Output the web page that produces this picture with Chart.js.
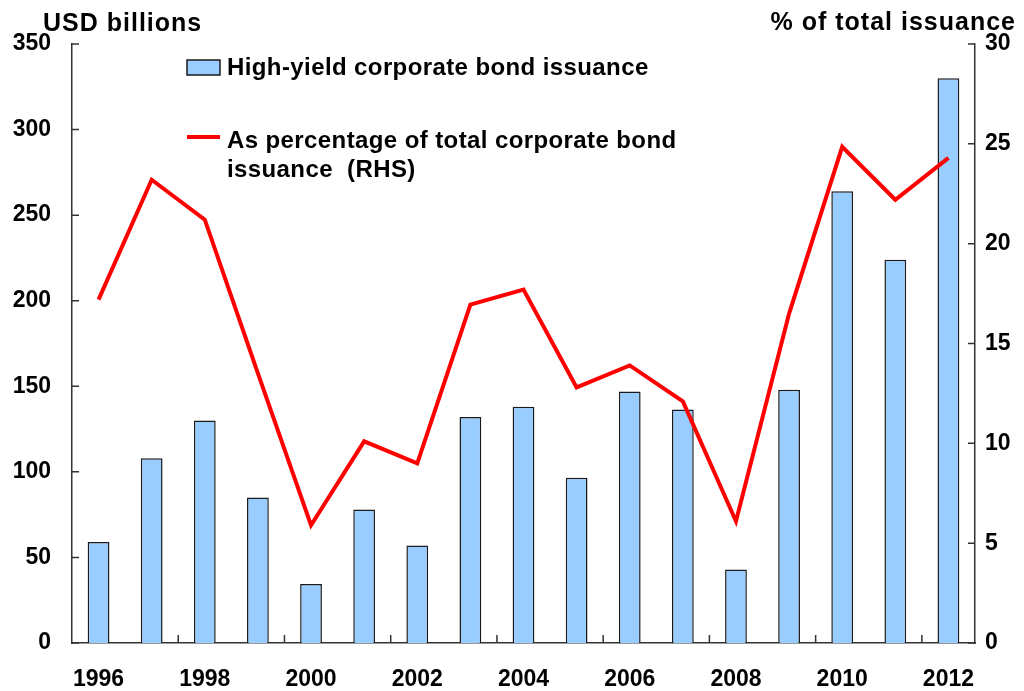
<!DOCTYPE html>
<html>
<head>
<meta charset="utf-8">
<script src="https://cdn.jsdelivr.net/npm/chart.js@4.4.0/dist/chart.umd.min.js"></script>
<style>
  html, body { margin: 0; padding: 0; background: #fff; }
  #wrap { width: 1024px; height: 691px; }
</style>
</head>
<body>
<div id="wrap"><canvas id="myChart" width="1024" height="691"></canvas></div>
<script>
const years = ['1996','1997','1998','1999','2000','2001','2002','2003','2004',
               '2005','2006','2007','2008','2009','2010','2011','2012'];
// USD billions
const hyIssuance = [59, 108, 130, 85, 34.5, 78, 57, 132, 138, 96.5, 147, 136.5, 43, 148, 264, 224, 330];
// % of total corporate bond issuance
const hyShare = [17.2, 23.2, 21.2, 13.5, 5.9, 10.1, 9.0, 16.95, 17.7, 12.8, 13.9, 12.1, 6.1, 16.5, 24.85, 22.2, 24.3];
const leftTicks = [0, 50, 100, 150, 200, 250, 300, 350];
const rightTicks = [0, 5, 10, 15, 20, 25, 30];
const leftTitle = 'USD billions';
const rightTitle = '% of total issuance';

const FONT = "'Liberation Sans', Arial, sans-serif";
const AXIS = '#333';

const ctx = document.getElementById('myChart');

// small tick marks pointing into the plot
const innerTicks = {
  id: 'innerTicks',
  afterDatasetsDraw(chart) {
    const {ctx, chartArea, scales} = chart;
    const half = (scales.x.getPixelForValue(1) - scales.x.getPixelForValue(0)) / 2;
    ctx.save();
    ctx.strokeStyle = AXIS;
    ctx.lineWidth = 1.5;
    ctx.beginPath();
    scales.y.ticks.forEach(t => {
      const py = scales.y.getPixelForValue(t.value);
      ctx.moveTo(chartArea.left, py);
      ctx.lineTo(chartArea.left + 7, py);
    });
    scales.y1.ticks.forEach(t => {
      const py = scales.y1.getPixelForValue(t.value);
      ctx.moveTo(chartArea.right, py);
      ctx.lineTo(chartArea.right - 7, py);
    });
    years.forEach((y, i) => {
      if (i > 0 && i % 2 === 0) {
        const px = scales.x.getPixelForValue(i) - half;
        ctx.moveTo(px, chartArea.bottom);
        ctx.lineTo(px, chartArea.bottom - 8);
      }
    });
    ctx.stroke();
    ctx.restore();
  }
};

// unit labels above each axis
const axisTitles = {
  id: 'axisTitles',
  afterDraw(chart) {
    const {ctx} = chart;
    ctx.save();
    ctx.fillStyle = '#000';
    ctx.font = 'bold 25px ' + FONT;
    ctx.letterSpacing = '1px';
    ctx.textBaseline = 'alphabetic';
    ctx.textAlign = 'left';
    ctx.fillText(leftTitle, 43, 31);
    ctx.textAlign = 'right';
    ctx.fillText(rightTitle, 1016, 30);
    ctx.restore();
  }
};

// legend drawn inside the plot, long labels wrap
const boxLegend = {
  id: 'boxLegend',
  afterDraw(chart) {
    const {ctx} = chart;
    const x0 = 187, textX = 227, maxW = 480, lineH = 29;
    let base = 75;
    ctx.save();
    ctx.font = 'bold 24px ' + FONT;
    ctx.letterSpacing = '0.4px';
    ctx.fillStyle = '#000';
    ctx.textBaseline = 'alphabetic';
    ctx.textAlign = 'left';
    chart.data.datasets.forEach(ds => {
      if (ds.type === 'bar') {
        ctx.fillStyle = ds.backgroundColor;
        ctx.fillRect(x0, base - 15, 33, 15);
        ctx.strokeStyle = ds.borderColor;
        ctx.lineWidth = 1.5;
        ctx.strokeRect(x0, base - 15, 33, 15);
      } else {
        ctx.strokeStyle = ds.borderColor;
        ctx.lineWidth = 4;
        ctx.beginPath();
        ctx.moveTo(x0, base - 11);
        ctx.lineTo(x0 + 33, base - 11);
        ctx.stroke();
      }
      // word wrap
      const words = ds.label.split(' ');
      let line = '';
      const lines = [];
      words.forEach(w => {
        const test = line === '' ? w : line + ' ' + w;
        if (ctx.measureText(test).width > maxW && line !== '') {
          lines.push(line);
          line = w;
        } else {
          line = test;
        }
      });
      lines.push(line);
      ctx.fillStyle = '#000';
      lines.forEach((l, k) => ctx.fillText(l, textX, base + k * lineH));
      base += 73;
    });
    ctx.restore();
  }
};

const tickFont = {family: FONT, size: 23, weight: 'bold'};

new Chart(ctx, {
  data: {
    labels: years,
    datasets: [
      {
        type: 'bar',
        label: 'High-yield corporate bond issuance',
        data: hyIssuance,
        yAxisID: 'y',
        backgroundColor: '#99CCFF',
        borderColor: '#1a1a1a',
        borderWidth: 1.5,
        categoryPercentage: 1,
        barPercentage: 0.41,
        order: 1,
      },
      {
        type: 'line',
        label: 'As percentage of total corporate bond issuance  (RHS)',
        data: hyShare,
        yAxisID: 'y1',
        borderColor: '#FF0000',
        backgroundColor: '#FF0000',
        borderWidth: 4,
        pointRadius: 0,
        tension: 0,
        order: 0,
      },
    ],
  },
  options: {
    responsive: false,
    animation: false,
    layout: {padding: {top: 44, left: 0, right: 0, bottom: 0}},
    plugins: {
      legend: {display: false},
      tooltip: {enabled: false},
    },
    scales: {
      x: {
        type: 'category',
        offset: true,
        grid: {display: false, drawTicks: false},
        border: {display: true, color: AXIS, width: 1.5},
        ticks: {
          autoSkip: false,
          maxRotation: 0,
          color: '#000',
          font: tickFont,
          padding: 23,
          callback: (v, i) => (i % 2 === 0 ? years[i] : ''),
        },
        afterFit: s => { s.height = 48; },
      },
      y: {
        position: 'left',
        min: leftTicks[0],
        max: leftTicks[leftTicks.length - 1],
        grid: {display: false, drawTicks: false},
        border: {display: true, color: AXIS, width: 1.5},
        afterBuildTicks: s => { s.ticks = leftTicks.map(v => ({value: v})); },
        ticks: {color: '#000', font: tickFont, padding: 21},
        afterFit: s => { s.width = 72; },
      },
      y1: {
        position: 'right',
        min: rightTicks[0],
        max: rightTicks[rightTicks.length - 1],
        grid: {display: false, drawTicks: false},
        border: {display: true, color: AXIS, width: 1.5},
        afterBuildTicks: s => { s.ticks = rightTicks.map(v => ({value: v})); },
        ticks: {color: '#000', font: tickFont, padding: 10},
        afterFit: s => { s.width = 49; },
      },
    },
  },
  plugins: [innerTicks, axisTitles, boxLegend],
});
</script>
</body>
</html>
